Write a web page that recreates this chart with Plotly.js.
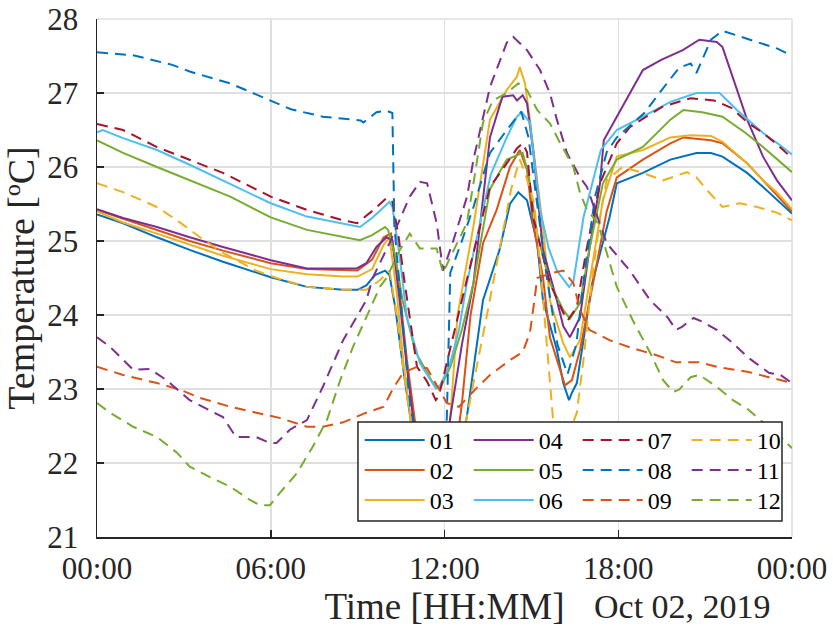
<!DOCTYPE html>
<html>
<head>
<meta charset="utf-8">
<script src="https://cdn.plot.ly/plotly-3.0.1.min.js"></script>
<style>html,body{margin:0;padding:0;background:#fff;}#chart{width:833px;height:627px;}</style>
</head>
<body>
<div id="chart"></div>
<script>
// ---- data (time in hours of Oct 02, 2019; temperature in degC) ----
const names = ['01','02','03','04','05','06','07','08','09','10','11','12'];
const colors = ['#0072BD','#D95319','#EDB120','#7E2F8E','#77AC30','#4DBEEE','#A2142F','#0072BD','#D95319','#EDB120','#7E2F8E','#77AC30'];
const dashes = ['solid','solid','solid','solid','solid','solid','dash','dash','dash','dash','dash','dash'];

const t01 = [0,0.9,2.07,3.2,4.35,6,7.25,8.5,9,9.3,9.6,9.95,10.1,10.3,10.6,10.9,11.3,11.8,12.2,12.5,12.77,13.33,13.9,14.26,14.55,14.85,15.2,15.4,15.88,16.1,16.3,16.4,16.57,17.1,17.7,17.95,18.85,19.8,20.7,21.2,21.6,22.45,23,23.5,24];
const v01 = [25.36,25.24,25.05,24.88,24.72,24.51,24.38,24.34,24.34,24.4,24.54,24.6,24.54,24.1,23.2,22.4,21.8,21.6,21.7,22.1,22.62,24.2,24.88,25.5,25.66,25.55,24.97,24.2,23.53,23.08,22.85,22.95,23.08,24.43,25.32,25.78,25.92,26.1,26.19,26.19,26.14,25.92,25.73,25.55,25.37];

const t02 = [0,0.9,2.07,3.2,4.35,6,7.25,8.5,9,9.5,9.9,10.15,10.4,10.7,11.0,11.4,11.9,12.3,12.6,12.9,13.33,13.8,14.26,14.6,14.85,15.06,15.4,15.64,16.0,16.16,16.4,16.68,17.13,17.6,17.95,18.85,19.8,20.25,21.2,21.6,22.45,23,23.5,24];
const v02 = [25.42,25.3,25.15,25.0,24.87,24.7,24.62,24.6,24.6,24.75,25.05,25.1,24.5,23.4,22.5,21.9,21.7,21.9,22.8,24.0,24.97,25.42,26.0,26.23,25.96,25.24,24.51,23.7,23.26,23.05,23.12,23.53,24.43,25.4,25.86,26.1,26.32,26.4,26.36,26.32,26.05,25.82,25.62,25.4];

const t03 = [0,0.9,2.07,3.2,4.35,6,7.25,8.5,9,9.5,9.9,10.1,10.35,10.6,10.9,11.3,11.8,12.05,12.2,12.45,13.0,13.57,14.15,14.5,14.6,14.78,14.95,15.2,15.4,15.64,16.1,16.33,16.68,17.0,17.47,17.95,18.85,19.8,20.5,21.2,21.6,22.45,23,23.5,24];
const v03 = [25.4,25.25,25.1,24.95,24.8,24.62,24.55,24.52,24.52,24.62,24.95,25.05,24.3,23.3,22.4,21.8,21.6,21.9,22.6,24.0,25.2,26.64,27.04,27.22,27.35,27.13,26.64,25.82,25.19,24.2,23.62,23.43,23.66,24.43,25.55,26.14,26.23,26.4,26.43,26.42,26.34,26.05,25.82,25.65,25.43];

const t04 = [0,0.9,2.07,3.2,4.35,6,7.25,8.97,9.3,9.65,10.0,10.2,10.45,10.7,10.95,11.3,11.8,12.0,12.2,12.6,13.0,13.57,14.0,14.37,14.5,14.7,14.85,15.07,15.4,15.88,16.1,16.33,16.68,17.0,17.37,17.5,17.95,18.85,19.5,20.23,20.8,21.4,21.6,21.95,22.45,23,23.48,24];
const v04 = [25.43,25.31,25.19,25.05,24.92,24.74,24.63,24.63,24.7,24.92,25.05,25.01,24.2,23.3,22.5,21.9,21.7,21.9,22.62,23.6,24.43,26.4,26.95,26.97,26.9,26.97,26.86,26.19,24.88,24.2,23.85,23.7,23.97,24.88,25.78,26.36,26.68,27.31,27.45,27.58,27.72,27.69,27.62,27.22,26.64,26.14,25.82,25.55];

const t05 = [0,0.9,2.07,3.2,4.6,6,7.25,9.08,9.5,9.95,10.05,10.3,10.55,11.0,11.6,11.85,12.2,12.6,13.0,13.57,14.15,14.7,14.9,15.2,15.64,16.1,16.33,16.68,17.0,17.47,17.95,18.85,19.8,20.25,20.9,21.6,22.4,23,23.5,24];
const v05 = [26.36,26.19,26.0,25.82,25.6,25.32,25.15,25.01,25.08,25.19,25.15,24.8,24.2,23.5,23.08,23.01,23.3,23.8,24.43,25.7,26.1,26.19,25.9,25.1,24.43,24.07,23.95,24.16,24.88,25.78,26.1,26.27,26.64,26.77,26.74,26.68,26.46,26.27,26.1,25.93];

const t06 = [0,0.2,0.9,2.07,3.2,4.35,6,7.25,9.08,9.53,9.9,10.1,10.2,10.45,10.7,11.15,11.7,11.85,12.2,12.5,12.77,13.2,13.6,14.15,14.5,14.67,14.95,15.3,15.6,15.88,16.3,16.45,16.8,17.4,17.95,18.85,19.8,20.7,21.5,22.1,23,23.5,24];
const v06 = [26.47,26.5,26.39,26.23,26.03,25.82,25.51,25.33,25.19,25.32,25.46,25.53,25.46,24.8,23.97,23.35,23.01,23.05,23.35,23.8,24.43,25.2,25.9,26.4,26.68,26.74,26.6,25.42,24.9,24.6,24.38,24.45,25.32,26.23,26.5,26.68,26.88,27.0,27.0,26.77,26.46,26.32,26.17];

const t07 = [0,0.9,2.07,3.2,4.35,6,7.25,8.5,8.98,9.55,10.0,10.2,10.4,10.6,11.05,11.4,11.7,11.8,12.2,12.6,13.1,13.57,14.15,14.5,14.7,14.85,15.06,15.64,16.1,16.26,16.57,16.9,17.37,17.95,18.4,19.5,20.5,21.3,21.9,22.5,23,23.5,24];
const v07 = [26.58,26.5,26.27,26.1,25.92,25.6,25.42,25.28,25.24,25.42,25.58,25.53,25.1,24.5,23.3,23.1,22.85,22.9,23.53,24.2,25.0,25.73,26.05,26.25,26.32,26.2,25.32,24.43,24.03,23.93,24.11,24.88,25.78,26.32,26.54,26.81,26.93,26.9,26.8,26.59,26.46,26.3,26.12];

const t08 = [0,1.25,2.6,3.2,4.6,6.0,6.7,7.8,9.1,9.2,9.65,10.0,10.2,10.27,10.5,10.8,11.2,11.7,12.0,12.08,12.2,12.6,13.0,13.57,14.15,14.5,14.65,14.9,15.2,15.5,15.9,16.25,16.55,16.85,17.2,17.6,17.95,18.9,19.5,20.1,20.5,20.7,20.9,21.2,21.6,22.4,23,23.5,24];
const v08 = [27.55,27.51,27.38,27.29,27.13,26.9,26.78,26.68,26.63,26.6,26.74,26.76,26.73,25.2,24.2,22.8,22.0,21.7,21.9,22.62,24.57,25.0,25.46,26.19,26.5,26.68,26.75,26.4,25.5,24.6,23.6,23.2,23.6,24.6,25.6,26.2,26.4,26.73,27.04,27.34,27.4,27.27,27.45,27.72,27.84,27.74,27.67,27.6,27.5];

const t09 = [0,0.9,2.07,2.87,3.56,4.6,5.5,6.3,7.25,7.8,8.5,9.3,9.9,10.2,10.57,11.05,11.4,11.73,12.08,12.5,13.0,13.57,14.3,14.7,14.95,15.12,15.2,15.75,16.1,16.45,16.68,17.0,17.7,18.5,19.3,20.0,20.8,21.4,22.5,23.2,24];
const v09 = [23.3,23.19,23.08,22.99,22.88,22.76,22.68,22.61,22.49,22.49,22.55,22.68,22.76,22.99,23.22,23.3,23.28,23.05,22.81,22.76,22.97,23.19,23.4,23.5,23.76,24.24,24.5,24.57,24.6,24.43,24.07,23.8,23.66,23.55,23.46,23.36,23.36,23.3,23.23,23.16,23.08];

const t10 = [0,0.9,2.07,2.76,3.56,4.35,5.5,6.2,7.25,8.5,9.3,9.77,10.1,10.35,10.6,10.9,11.3,11.8,12.3,12.77,13.45,13.9,14.3,14.6,14.8,15.1,15.35,15.75,16.1,16.57,16.8,17.1,17.4,17.6,18.15,18.85,19.55,20.37,20.7,21.06,21.6,22.2,22.8,23.5,24];
const v10 = [25.78,25.66,25.46,25.28,25.05,24.84,24.6,24.5,24.38,24.34,24.34,24.47,24.6,24.0,23.2,22.4,21.8,21.6,21.9,22.62,23.97,24.9,25.7,26.1,25.9,25.5,24.47,22.58,22.2,22.68,23.4,24.5,25.4,25.82,26.0,25.92,25.82,25.93,25.86,25.69,25.46,25.51,25.46,25.38,25.28];

const t11 = [0,0.45,1.25,1.83,2.4,3.2,4.35,4.8,5.5,5.97,6.2,6.66,7.25,7.8,8.5,9.3,9.53,10.1,10.8,11.15,11.4,11.73,11.95,12.3,12.78,13.0,13.57,14.15,14.37,14.85,15.3,15.64,15.88,16.23,16.68,16.92,17.6,18.4,19.1,19.7,20.0,20.2,20.6,20.9,21.4,21.96,22.5,23.2,23.6,24];
const v11 = [23.7,23.57,23.26,23.27,23.12,22.85,22.62,22.35,22.35,22.27,22.27,22.45,22.58,23.03,23.66,24.2,24.51,24.97,25.6,25.8,25.78,25.24,24.6,25.0,25.6,26.1,27.08,27.68,27.76,27.58,27.31,27.0,26.64,26.19,25.86,25.73,24.97,24.6,24.2,23.97,23.8,23.84,23.96,23.91,23.8,23.62,23.42,23.22,23.19,23.08];

const t12 = [0,0.45,1.25,2.07,2.76,3.2,3.9,4.6,5.28,5.62,5.97,6.3,6.9,7.45,7.94,8.4,8.84,9.3,9.77,10.0,10.46,10.8,11.15,11.73,11.95,12.2,12.77,13.0,13.33,13.67,14.15,14.55,14.85,15.2,15.64,16.0,16.45,16.68,16.92,17.3,17.95,18.5,19.1,19.55,19.9,20.1,20.5,20.8,21.4,21.96,22.5,22.9,23.5,24];
const v12 = [22.81,22.68,22.49,22.35,22.14,21.95,21.81,21.68,21.5,21.43,21.43,21.59,21.86,22.22,22.58,23.12,23.57,23.97,24.38,24.5,24.88,25.1,24.9,24.9,24.57,24.78,25.24,25.78,26.6,26.9,27.0,27.13,27.04,26.77,26.59,26.32,26.0,25.65,25.42,25.24,24.38,23.93,23.49,23.12,22.96,22.99,23.16,23.19,23.03,22.85,22.72,22.58,22.4,22.2];

const tickVals = [0,6,12,18,24];
const tickText = ['00:00','06:00','12:00','18:00','00:00'];
const yTicks = [21,22,23,24,25,26,27,28];

const T = [t01,t02,t03,t04,t05,t06,t07,t08,t09,t10,t11,t12];
const V = [v01,v02,v03,v04,v05,v06,v07,v08,v09,v10,v11,v12];

const FONT = 'Liberation Serif';
// legend rows (MATLAB fills columns first): row r holds series r, r+3, r+6, r+9
const rowIds = ['legend','legend2','legend3'];
const rowTops = [0.2297, 0.1718, 0.1139];

const traces = names.map((n,i) => ({
  type:'scatter', mode:'lines', name:n, x:T[i], y:V[i],
  line:{color:colors[i], width:2, dash: dashes[i]==='dash' ? '11px,7px' : 'solid'},
  legend: rowIds[i % 3],
  legendrank: i,
  hoverinfo:'skip'
}));

function legendRow(r){
  return {
    x: 0.378, xanchor:'left',
    y: rowTops[r], yanchor:'top',
    orientation:'h',
    bgcolor:'rgba(0,0,0,0)', borderwidth:0,
    font:{family:FONT, size:24, color:'#000'},
    itemwidth:60, entrywidth:34, entrywidthmode:'pixels', tracegroupgap:0
  };
}

const layout = {
  width:833, height:627,
  margin:{l:97, r:41, t:19, b:90, pad:0},
  paper_bgcolor:'#fff', plot_bgcolor:'#fff',
  font:{family:FONT, color:'#262626'},
  showlegend:true,
  legend:legendRow(0), legend2:legendRow(1), legend3:legendRow(2),
  xaxis:{
    range:[0,24], tickvals:tickVals, ticktext:tickText,
    ticks:'inside', ticklen:7, tickwidth:1.5, tickcolor:'#262626',
    showline:true, linecolor:'#262626', linewidth:1.5,
    showgrid:true, gridcolor:'#dfdfdf', gridwidth:1.5, zeroline:false,
    tickfont:{family:FONT, size:31, color:'#262626'},
    ticklabelstandoff:3,
    title:{text:'Time [HH:MM]', font:{family:FONT, size:37, color:'#262626'}, standoff:14}
  },
  yaxis:{
    range:[21,28], tickvals:yTicks,
    ticks:'inside', ticklen:7, tickwidth:1.5, tickcolor:'#262626',
    showline:true, linecolor:'#262626', linewidth:1.5,
    showgrid:true, gridcolor:'#dfdfdf', gridwidth:1.5, zeroline:false,
    tickfont:{family:FONT, size:31, color:'#262626'},
    ticklabelstandoff:11,
    title:{text:'Temperature [ºC]', font:{family:FONT, size:38, color:'#262626'}, standoff:4}
  },
  shapes:[
    {type:'line', xref:'paper', yref:'paper', x0:0, x1:1, y0:1, y1:1, line:{color:'#dfdfdf', width:1.5}, layer:'below'},
    {type:'line', xref:'paper', yref:'paper', x0:1, x1:1, y0:0, y1:1, line:{color:'#dfdfdf', width:1.5}, layer:'below'},
    {type:'rect', xref:'paper', yref:'paper', x0:0.3755, x1:0.9856, y0:0.0309, y1:0.222,
     fillcolor:'#fff', line:{color:'#262626', width:1.5}, layer:'above'}
  ],
  annotations:[
    {text:'Oct 02, 2019', xref:'paper', yref:'paper', x:0.842, y:-0.135, xanchor:'center', yanchor:'middle',
     showarrow:false, font:{family:FONT, size:34, color:'#262626'}}
  ]
};

Plotly.newPlot('chart', traces, layout, {staticPlot:true, displayModeBar:false});
</script>
</body>
</html>
